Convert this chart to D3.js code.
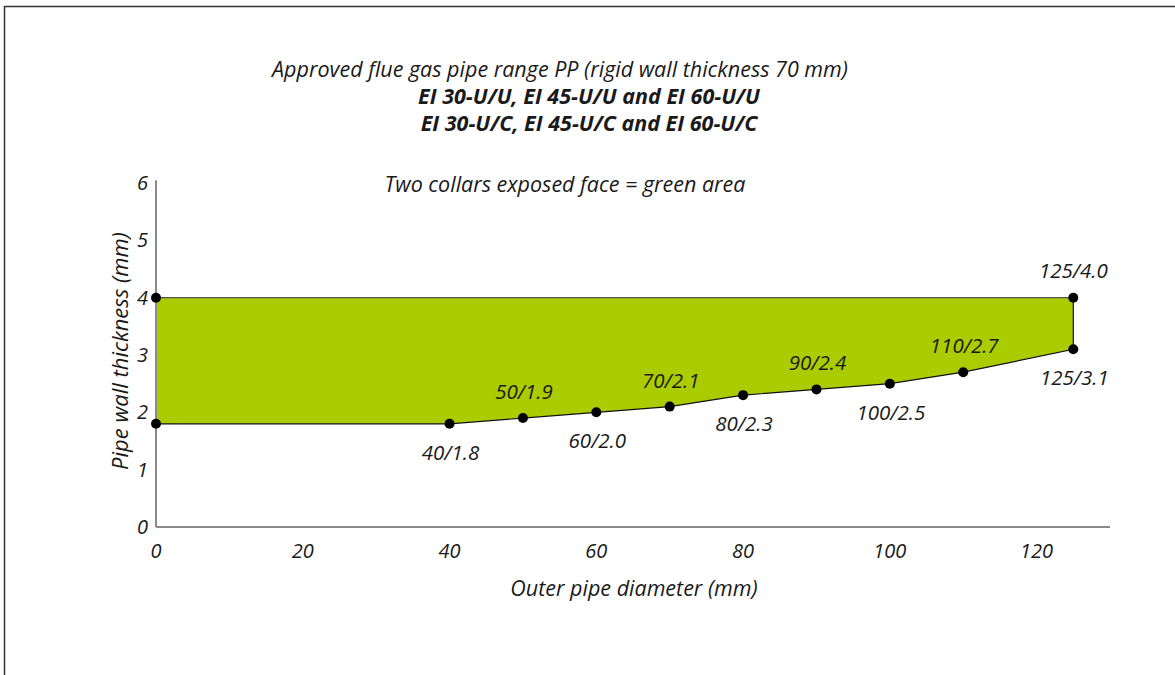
<!DOCTYPE html>
<html>
<head>
<meta charset="utf-8">
<script src="https://cdn.jsdelivr.net/npm/d3@7"></script>
<style>
  body { margin: 0; background: #fff; }
  svg text { font-family: "Open Sans", "Noto Sans", sans-serif; font-style: italic; fill: #1a1a1a; }
</style>
</head>
<body>
<svg id="chart" width="1175" height="675"></svg>
<script>
// outer pipe diameter (mm) along the lower boundary
var diameters = [0, 40, 50, 60, 70, 80, 90, 100, 110, 125];
// minimum pipe wall thickness (mm) for each diameter
var minThickness = [1.8, 1.8, 1.9, 2.0, 2.1, 2.3, 2.4, 2.5, 2.7, 3.1];
// upper limit wall thickness (mm)
var maxThickness = 4.0;
// which side of the point the label sits on
var labelSide = ["none", "below", "above", "below", "above", "below", "above", "below", "above", "below"];
var xTicks = [0, 20, 40, 60, 80, 100, 120];
var yTicks = [0, 1, 2, 3, 4, 5, 6];
var titleLines = [
    "Approved flue gas pipe range PP (rigid wall thickness 70 mm)",
    "EI 30-U/U, EI 45-U/U and EI 60-U/U",
    "EI 30-U/C, EI 45-U/C and EI 60-U/C"
];
var subTitle = "Two collars exposed face = green area";

var svg = d3.select("#chart");

// frame
svg.append("rect")
    .attr("x", 4.5).attr("y", 6.5)
    .attr("width", 1200).attr("height", 700)
    .attr("fill", "none")
    .attr("stroke", "#333")
    .attr("stroke-width", 1.5);

var x = d3.scaleLinear().domain([0, 130]).range([156, 1110]);
var y = d3.scaleLinear().domain([0, 6]).range([527, 183]);

// green area
var bottom = diameters.map(function(d, i) { return { x: d, y: minThickness[i] }; });
var poly = [{ x: diameters[0], y: maxThickness }, { x: diameters[diameters.length - 1], y: maxThickness }]
    .concat(bottom.slice().reverse());

var line = d3.line().x(function(d) { return x(d.x); }).y(function(d) { return y(d.y); });

svg.append("path")
    .attr("d", line(poly) + "Z")
    .attr("fill", "#abcc00")
    .attr("stroke", "none");

// upper edge
svg.append("path")
    .attr("d", line([{ x: 0, y: maxThickness }, { x: 125, y: maxThickness }]))
    .attr("fill", "none").attr("stroke", "#555").attr("stroke-width", 1.2);
// lower edge and right edge
svg.append("path")
    .attr("d", line(bottom.concat([{ x: 125, y: maxThickness }])))
    .attr("fill", "none").attr("stroke", "#111").attr("stroke-width", 1.2);

// axes
svg.append("line")
    .attr("x1", x(0)).attr("y1", y(0)).attr("x2", x(130)).attr("y2", y(0))
    .attr("stroke", "#8a8a8a").attr("stroke-width", 2);
svg.append("line")
    .attr("x1", x(0)).attr("y1", y(0)).attr("x2", x(0)).attr("y2", y(6.05))
    .attr("stroke", "#8a8a8a").attr("stroke-width", 2);

svg.selectAll(".xt").data(xTicks).enter().append("text")
    .attr("x", function(d) { return x(d); })
    .attr("y", 558)
    .attr("text-anchor", "middle")
    .attr("font-size", 20)
    .text(function(d) { return d; });

svg.selectAll(".yt").data(yTicks).enter().append("text")
    .attr("x", 148)
    .attr("y", function(d) { return y(d) + 7; })
    .attr("text-anchor", "end")
    .attr("font-size", 20)
    .text(function(d) { return d; });

// points
var pts = bottom.concat([{ x: 0, y: maxThickness }, { x: 125, y: maxThickness }]);
svg.selectAll(".pt").data(pts).enter().append("circle")
    .attr("cx", function(d) { return x(d.x); })
    .attr("cy", function(d) { return y(d.y); })
    .attr("r", 5)
    .attr("fill", "#000");

// point labels
bottom.forEach(function(d, i) {
    if (labelSide[i] === "none") return;
    svg.append("text")
        .attr("x", x(d.x) + 1)
        .attr("y", y(d.y) + (labelSide[i] === "above" ? -19 : 36))
        .attr("text-anchor", "middle")
        .attr("font-size", 20.5)
        .text(d.x + "/" + d.y.toFixed(1));
});
svg.append("text")
    .attr("x", x(125))
    .attr("y", y(maxThickness) - 20)
    .attr("text-anchor", "middle")
    .attr("font-size", 20.5)
    .text("125/" + maxThickness.toFixed(1));

// titles
svg.append("text").attr("x", 560).attr("y", 77).attr("text-anchor", "middle")
    .attr("font-size", 21.5).text(titleLines[0]);
svg.append("text").attr("x", 589).attr("y", 104).attr("text-anchor", "middle")
    .attr("font-size", 21.5).attr("font-weight", "bold").text(titleLines[1]);
svg.append("text").attr("x", 589).attr("y", 131).attr("text-anchor", "middle")
    .attr("font-size", 21.5).attr("font-weight", "bold").text(titleLines[2]);
svg.append("text").attr("x", 565).attr("y", 192).attr("text-anchor", "middle")
    .attr("font-size", 21.5).text(subTitle);

// axis titles
svg.append("text").attr("x", 634).attr("y", 596).attr("text-anchor", "middle")
    .attr("font-size", 21.5).text("Outer pipe diameter (mm)");
svg.append("text")
    .attr("transform", "translate(128,351) rotate(-90)")
    .attr("text-anchor", "middle")
    .attr("font-size", 22).text("Pipe wall thickness (mm)");
</script>
</body>
</html>
